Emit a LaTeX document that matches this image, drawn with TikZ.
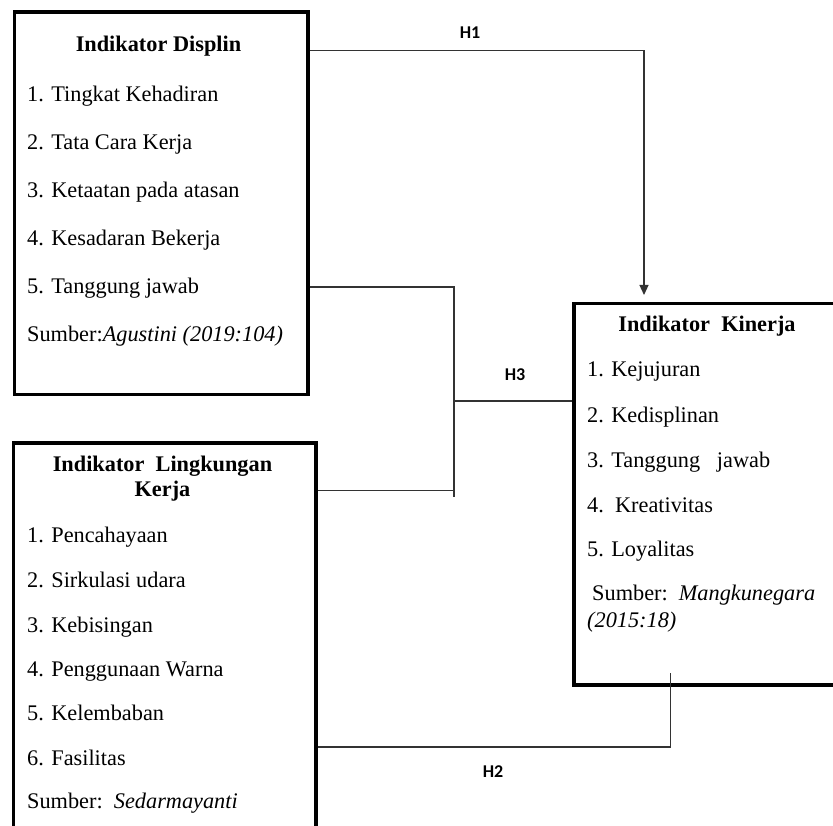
\documentclass[tikz,border=0pt]{standalone}
\usepackage{fontspec}
\setmainfont{Liberation Serif}
\newfontfamily\hfont{Carlito}
\usetikzlibrary{arrows.meta}
\tikzset{
  box/.style={draw=black, line width=3.5pt, fill=none, rectangle, inner sep=0pt, anchor=north west},
  txt/.style={anchor=base west, inner sep=0pt, font=\fontsize{22.3}{24}\selectfont},
  ttl/.style={anchor=base, inner sep=0pt, font=\fontsize{22.3}{24}\selectfont\bfseries},
  hl/.style={inner sep=0pt, font=\hfont\fontsize{18}{20}\selectfont\bfseries},
  conn/.style={draw=black!80, line width=1.2pt}
}
\begin{document}
\begin{tikzpicture}[x=1pt,y=-1pt]
\useasboundingbox (0,0) rectangle (833,826);
\clip (0,0) rectangle (833,826);
% boxes
\node[box, minimum width=293.5pt, minimum height=382pt] (disp) at (12.5,10.5) {};
\node[box, minimum width=302.5pt, minimum height=387pt] (ling) at (11.5,441) {};
\node[box, minimum width=270pt, minimum height=381pt] (kin) at (572,302) {};
% box 1 text
\node[ttl] (d0) at (158.5,52) {Indikator Displin};
\node[txt] (d1) at (27,101.7) {1. Tingkat Kehadiran};
\node[txt] (d2) at (27,149.5) {2. Tata Cara Kerja};
\node[txt] (d3) at (27,197.5) {3. Ketaatan pada atasan};
\node[txt] (d4) at (27,245.5) {4. Kesadaran Bekerja};
\node[txt] (d5) at (27,293.5) {5. Tanggung jawab};
\node[txt] (d6) at (27,341.7) {Sumber:\textit{Agustini (2019:104)}};
% box 2 text
\node[ttl] (l0a) at (162.5,471.7) {Indikator\ \ Lingkungan};
\node[ttl] (l0b) at (162.5,496) {Kerja};
\node[txt] (l1) at (27,542) {1. Pencahayaan};
\node[txt] (l2) at (27,587) {2. Sirkulasi udara};
\node[txt] (l3) at (27,632) {3. Kebisingan};
\node[txt] (l4) at (27,676) {4. Penggunaan Warna};
\node[txt] (l5) at (27,720) {5. Kelembaban};
\node[txt] (l6) at (27,765) {6. Fasilitas};
\node[txt] (l7) at (27,808) {Sumber:\ \ \textit{Sedarmayanti}};
% box 3 text
\node[ttl] (k0) at (707,332) {Indikator\ \ Kinerja};
\node[txt] (k1) at (587,377) {1. Kejujuran};
\node[txt] (k2) at (587,422) {2. Kedisplinan};
\node[txt] (k3) at (587,467) {3. Tanggung\ \ \ jawab};
\node[txt] (k4) at (587,512) {4.\ \ Kreativitas};
\node[txt] (k5) at (587,556) {5. Loyalitas};
\node[txt] (k6) at (592,600) {Sumber:\ \ \textit{Mangkunegara}};
\node[txt] (k7) at (587,627) {\textit{(2015:18)}};
% connector points
\coordinate (h1a) at (disp.north east |- 0,50.7);
\coordinate (h1b) at (644,295);
\coordinate (h3a) at (disp.north east |- 0,287);
\coordinate (h3j) at (454,287);
\coordinate (h3e) at (454,497);
\coordinate (h3b) at (ling.north east |- 0,490.7);
\coordinate (h3m) at (454,401);
\coordinate (h3c) at (kin.north west |- 0,401);
\coordinate (h2a) at (ling.north east |- 0,747);
\coordinate (h2b) at (670.7,673);
% connectors
\draw[conn, -{Triangle[width=9pt,length=10pt]}] (h1a) -| (h1b);
\draw[conn] (h3a) -- (h3j) -- (h3e);
\draw[conn] (h3b) -- (h3b -| h3j);
\draw[conn] (h3m) -- (h3c);
\draw[conn] (h2a) -| (h2b);
% labels
\node[hl] (H1) at (470,33) {H1};
\node[hl] (H3) at (515,375) {H3};
\node[hl] (H2) at (493,772) {H2};
\end{tikzpicture}
\end{document}
